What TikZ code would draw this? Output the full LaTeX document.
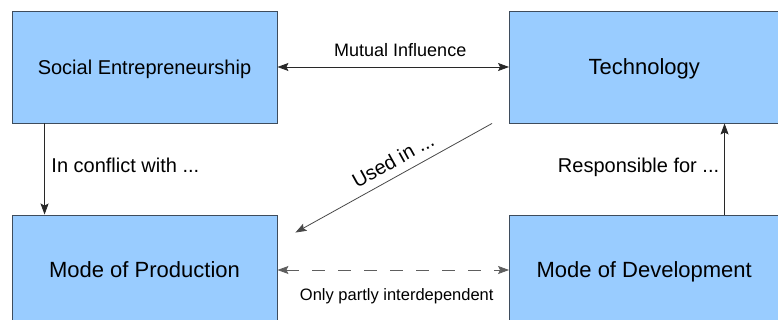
\documentclass[tikz,border=0pt]{standalone}
\usepackage{fontspec}
\setmainfont{Liberation Sans}
\usetikzlibrary{arrows.meta,calc}
\definecolor{boxfill}{RGB}{153,204,255}
\definecolor{boxline}{RGB}{62,76,92}
\definecolor{wire}{RGB}{40,40,40}
\newcommand{\fs}[1]{\fontsize{#1}{#1}\selectfont}
\tikzset{
  block/.style={rectangle, draw=boxline, fill=boxfill, line width=0.9pt,
                inner sep=0pt, anchor=center, text height=15.5pt, text depth=0pt},
  link/.style={draw=wire, line width=0.8pt},
  tip/.style={-{Stealth[length=11pt,width=8pt,inset=2pt]}},
  bothtips/.style={{Stealth[length=11pt,width=8pt,inset=2pt]}-{Stealth[length=11pt,width=8pt,inset=2pt]}},
  lbl/.style={inner sep=0pt, text=black}
}
\begin{document}
\begin{tikzpicture}[x=1pt, y=-1pt]
  \useasboundingbox (0,0) rectangle (778,320);
  \begin{scope}
    \clip (0,0) rectangle (778,320);

    % the four blocks
    \node[block, minimum width=265pt, minimum height=112pt, text height=14.5pt] (soc) at (144.5,67)
      {\fs{20}Social Entrepreneurship};
    \node[block, minimum width=269.5pt, minimum height=112pt] (tech) at (644.25,67)
      {\fs{22}Technology};
    \node[block, minimum width=265pt, minimum height=110pt] (prod) at (144.5,270)
      {\fs{22}Mode of Production};
    \node[block, minimum width=269.5pt, minimum height=110pt] (dev) at (644.25,270)
      {\fs{22}Mode of Development};

    % mutual influence between the upper blocks
    \draw[link, bothtips] (soc.east) -- (tech.west)
      node[lbl, midway, anchor=base, xshift=7pt, yshift=10pt] {\fs{18}Mutual Influence};

    % conflict, left column
    \draw[link, tip] ([xshift=33pt]soc.south west) -- ([xshift=33pt]prod.north west)
      node[lbl, midway, anchor=base west, xshift=6.5pt, yshift=-4pt] {\fs{20}In conflict with ...};

    % responsibility, right column
    \draw[link, tip] ([xshift=215.5pt]dev.north west) -- ([xshift=215.5pt]tech.south west)
      node[lbl, midway, anchor=base east, xshift=-5pt, yshift=-4pt] {\fs{20}Responsible for ...};

    % technology used in production
    \draw[link, tip, draw=wire!85] ([xshift=-17pt]tech.south west) -- ([xshift=18pt,yshift=-18pt]prod.north east)
      node[lbl, pos=0.465, sloped, anchor=south, outer sep=8.5pt] {\fs{20}Used in ...};

    % partial interdependence, dashed
    \draw[link, bothtips, draw=wire!75, dash pattern=on 13pt off 13pt] (prod.east) -- (dev.west)
      node[lbl, midway, anchor=base, xshift=3.5pt, yshift=-30.5pt] {\fs{16.5}Only partly interdependent};
  \end{scope}
\end{tikzpicture}
\end{document}
